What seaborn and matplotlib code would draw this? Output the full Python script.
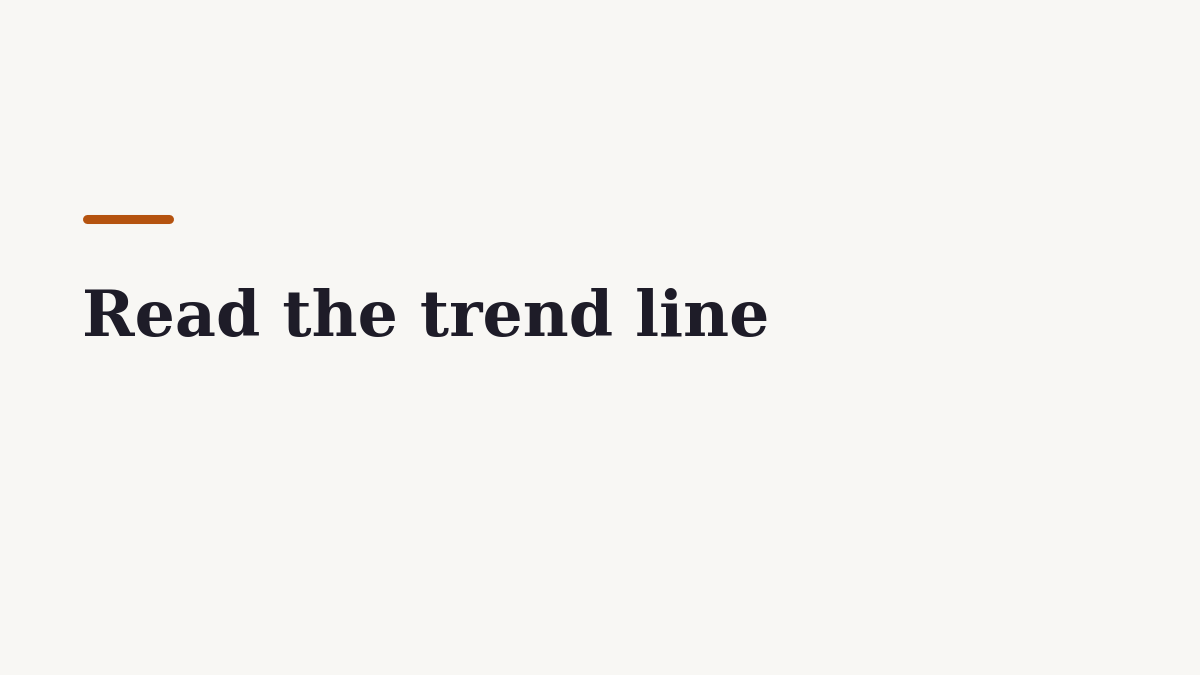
import matplotlib
matplotlib.use("Agg")
import matplotlib.pyplot as plt
import seaborn as sns
import pandas as pd

# Content
title_text = "Read the trend line"
accent_x = [86.5, 168.5]
accent_y = [218.5, 218.5]

BG = "#F8F7F4"
ACCENT = "#B5530F"
INK = "#1E1C28"

sns.set_theme(style="white")
plt.rcParams['font.family'] = ['DejaVu Serif']

fig = plt.figure(figsize=(12, 6.75), dpi=100, facecolor=BG)
ax = fig.add_axes([0, 0, 1, 1])
ax.set_facecolor(BG)

accent = pd.DataFrame({"x": accent_x, "y": accent_y})
sns.lineplot(data=accent, x="x", y="y", ax=ax, color=ACCENT, linewidth=6.5,
             solid_capstyle="round", legend=False)
ax.set_xlim(0, 1200)
ax.set_ylim(675, 0)
ax.axis("off")

t = ax.text(82, 336, title_text, fontsize=50, fontweight="bold", color=INK,
            ha="left", va="baseline", family=["DejaVu Serif"])

fig.canvas.draw()
bb = t.get_window_extent()
target = 770 - 82
t.set_fontsize(50 * target / bb.width)

fig.savefig("out.png", dpi=100, facecolor=BG)
